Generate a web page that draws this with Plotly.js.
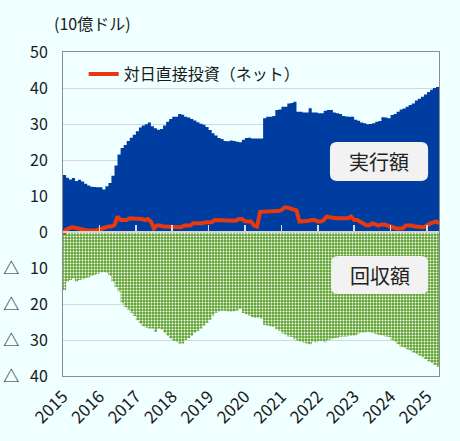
<!DOCTYPE html>
<html>
<head>
<meta charset="utf-8">
<script src="https://cdn.plot.ly/plotly-3.0.1.min.js"></script>
<style>
  html, body { margin: 0; padding: 0; background: #F0FFFF; }
  #chart { width: 460px; height: 441px; }
</style>
</head>
<body>
<div id="chart"></div>
<script>
/*globals document, Plotly*/

// monthly, Jan 2015 - May 2025 (10億ドル)
var startYear = 2015;

// 実行額
var execution = [
  15.8, 15.1, 14.6, 15.0, 14.2, 14.5, 14.0, 13.4, 12.9, 12.6,
  12.5, 12.4, 12.4, 11.8, 12.7, 13.6, 15.6, 18.5, 21.5, 23.3,
  24.2, 25.3, 26.2, 27.0, 28.0, 29.0, 29.6, 29.9, 30.4, 29.4,
  28.8, 28.4, 28.6, 29.6, 30.6, 31.4, 32.0, 32.0, 32.8, 32.6,
  32.0, 31.8, 31.4, 31.0, 30.5, 30.1, 29.8, 29.2, 28.3, 27.4,
  26.8, 26.1, 25.8, 25.3, 25.2, 25.4, 25.3, 25.1, 24.9, 25.6,
  26.1, 26.2, 26.0, 26.0, 26.0, 26.0, 31.6, 32.0, 32.0, 32.2,
  33.9, 34.0, 34.8, 34.8, 35.7, 35.8, 36.2, 33.4, 33.4, 33.2,
  33.2, 34.4, 33.2, 33.2, 33.0, 33.0, 33.7, 33.9, 33.9, 33.2,
  33.0, 32.8, 32.2, 32.1, 32.0, 32.0, 31.2, 30.9, 30.4, 30.2,
  29.9, 30.0, 30.2, 30.6, 30.8, 31.9, 31.8, 31.6, 32.5, 32.8,
  33.4, 34.0, 34.3, 34.8, 35.3, 35.7, 36.5, 37.0, 37.6, 38.2,
  38.9, 39.5, 40.0, 40.3, 40.6
];

// 回収額 (negative)
var collection = [
  -16.1, -13.8, -13.3, -12.9, -13.8, -13.3, -13.1, -12.8, -12.6, -12.2,
  -11.9, -11.6, -11.2, -11.1, -11.4, -12.2, -13.8, -15.2, -16.5, -19.8,
  -20.8, -21.6, -22.4, -23.3, -24.5, -25.5, -26.2, -26.5, -26.8, -26.8,
  -27.7, -26.8, -27.1, -28.0, -28.8, -29.6, -30.2, -30.5, -31.0, -31.0,
  -30.0, -29.5, -28.8, -28.0, -27.5, -26.8, -26.0, -25.2, -24.4, -23.2,
  -22.4, -22.0, -21.9, -21.9, -22.0, -22.1, -22.0, -21.8, -21.4, -22.5,
  -22.8, -23.2, -23.6, -23.8, -23.8, -24.0, -25.8, -26.0, -26.2, -26.4,
  -27.0, -27.4, -28.2, -28.5, -29.0, -29.2, -29.8, -30.2, -30.5, -30.7,
  -31.0, -31.2, -30.5, -30.6, -30.3, -30.2, -30.6, -30.0, -29.8, -29.5,
  -29.4, -29.1, -29.0, -29.0, -28.8, -28.8, -28.7, -28.2, -28.0, -27.9,
  -27.7, -27.9, -28.1, -28.4, -28.6, -28.7, -29.0, -29.2, -30.0, -30.5,
  -31.2, -31.8, -32.1, -32.6, -32.9, -33.5, -33.9, -34.3, -34.8, -35.3,
  -35.9, -36.4, -36.9, -37.4, -37.7
];

// 対日直接投資（ネット）
var net = [
  -0.6, 0.6, 1.0, 1.3, 1.2, 1.0, 0.8, 0.4, 0.4, 0.4,
  0.4, 0.5, 0.7, 1.0, 1.0, 1.5, 1.5, 1.9, 4.3, 3.3,
  3.3, 3.3, 3.8, 3.8, 3.8, 3.6, 3.6, 3.3, 3.6, 2.9,
  1.0, 1.8, 1.8, 1.5, 1.5, 1.5, 1.5, 1.5, 1.3, 1.3,
  1.8, 1.8, 1.8, 2.4, 2.4, 2.4, 2.4, 2.7, 2.7, 2.7,
  3.3, 3.3, 3.3, 3.1, 3.1, 3.1, 3.1, 3.1, 3.6, 3.6,
  3.0, 3.0, 2.9, 1.8, 1.5, 5.6, 5.6, 5.6, 5.6, 5.7,
  5.6, 5.8, 6.1, 6.8, 6.8, 6.5, 6.1, 6.0, 2.9, 2.9,
  2.9, 3.1, 3.3, 3.3, 2.9, 2.9, 3.3, 4.3, 4.1, 3.8,
  3.8, 3.8, 3.8, 3.8, 3.8, 4.3, 3.3, 3.3, 2.8, 2.4,
  1.9, 1.9, 2.4, 2.1, 1.8, 2.1, 2.1, 1.8, 1.5, 1.2,
  1.0, 1.0, 1.0, 1.8, 1.8, 1.8, 1.5, 1.5, 1.5, 1.3,
  1.8, 2.4, 2.6, 2.9, 2.4
];

var yTickVals = [50, 40, 30, 20, 10, 0, -10, -20, -30, -40];
var yTickText = ['50', '40', '30', '20', '10', '0',
  '△\u00a0\u00a0\u00a010', '△\u00a0\u00a0\u00a020', '△\u00a0\u00a0\u00a030', '△\u00a0\u00a0\u00a040'];

function monthString(i) {
  var y = startYear + Math.floor(i / 12);
  var m = (i % 12) + 1;
  return y + '-' + (m < 10 ? '0' + m : m) + '-01';
}

var months = execution.map(function (v, i) { return monthString(i); });
var xRange = [months[0], months[months.length - 1]];

var fontFamily = '"Noto Sans CJK JP", "Noto Sans", sans-serif';
var bg = '#F0FFFF';

var traces = [
  {
    x: months, y: execution, type: 'scatter', mode: 'lines',
    line: {shape: 'hv', width: 0, color: '#003DA0'},
    fill: 'tozeroy', fillcolor: '#003DA0',
    showlegend: false, hoverinfo: 'skip'
  },
  {
    x: months, y: collection, type: 'scatter', mode: 'lines',
    line: {shape: 'hv', width: 0, color: '#5ca32c'},
    fill: 'tozeroy', fillcolor: '#5ca32c',
    fillpattern: {shape: '.', bgcolor: '#5ca32c', fgcolor: '#ffffff', size: 3, solidity: 0.35},
    showlegend: false, hoverinfo: 'skip'
  },
  {
    x: months, y: net, type: 'scatter', mode: 'lines',
    name: '対日直接投資（ネット）',
    xaxis: 'x2',
    line: {width: 4, color: '#E8380D'}
  }
];

// rounded label box in paper coords
function roundBox(x0, x1, y0, y1) {
  var rx = 7 / 376, ry = 7 / 324;
  return 'M' + (x0 + rx) + ',' + y0 + ' L' + (x1 - rx) + ',' + y0 +
    ' Q' + x1 + ',' + y0 + ' ' + x1 + ',' + (y0 + ry) +
    ' L' + x1 + ',' + (y1 - ry) +
    ' Q' + x1 + ',' + y1 + ' ' + (x1 - rx) + ',' + y1 +
    ' L' + (x0 + rx) + ',' + y1 +
    ' Q' + x0 + ',' + y1 + ' ' + x0 + ',' + (y1 - ry) +
    ' L' + x0 + ',' + (y0 + ry) +
    ' Q' + x0 + ',' + y0 + ' ' + (x0 + rx) + ',' + y0 + ' Z';
}

var layout = {
  width: 460,
  height: 441,
  margin: {l: 63, r: 21, t: 52, b: 65},
  paper_bgcolor: bg,
  plot_bgcolor: bg,
  font: {family: fontFamily, size: 16, color: '#1a1a1a'},
  showlegend: true,
  legend: {
    x: 0.055, y: 0.932, xanchor: 'left', yanchor: 'middle',
    bgcolor: 'rgba(0,0,0,0)', itemwidth: 30,
    font: {family: fontFamily, size: 16, color: '#1a1a1a'}
  },
  xaxis: {
    type: 'date', range: xRange,
    tick0: months[0], dtick: 'M12', tickformat: '%Y', tickangle: -45,
    showgrid: false, zeroline: false,
    showline: true, mirror: true, linecolor: '#8c8c8c', linewidth: 1,
    ticks: 'outside', ticklen: 3, tickcolor: 'rgba(0,0,0,0)',
    tickfont: {size: 17, color: '#1a1a1a'}
  },
  xaxis2: {
    type: 'date', range: xRange, overlaying: 'x', anchor: 'free', position: 40 / 90,
    tick0: months[0], dtick: 'M12', showticklabels: false,
    showgrid: false, zeroline: false,
    showline: true, linecolor: '#cfd3d6', linewidth: 2,
    ticks: 'inside', ticklen: 6, tickwidth: 1.5, tickcolor: '#d8dcdf'
  },
  yaxis: {
    range: [-40, 50], tickvals: yTickVals, ticktext: yTickText,
    gridcolor: '#d6d6d6', gridwidth: 1, zeroline: false,
    showline: true, mirror: true, linecolor: '#8c8c8c', linewidth: 1,
    ticks: 'outside', ticklen: 11, tickcolor: 'rgba(0,0,0,0)',
    tickfont: {size: 16, color: '#1a1a1a'}
  },
  shapes: [
    {type: 'path', xref: 'paper', yref: 'paper', layer: 'above',
      path: roundBox(0.710, 0.971, 0.602, 0.722), fillcolor: '#F2F2F2', line: {width: 0}},
    {type: 'path', xref: 'paper', yref: 'paper', layer: 'above',
      path: roundBox(0.713, 0.971, 0.253, 0.370), fillcolor: '#F2F2F2', line: {width: 0}}
  ],
  annotations: [
    {text: '(10億ドル)', xref: 'paper', yref: 'paper', x: -0.03, y: 1.09,
      xanchor: 'left', yanchor: 'middle', showarrow: false,
      font: {size: 16, color: '#1a1a1a'}},
    {text: '実行額', xref: 'paper', yref: 'paper', x: 0.8405, y: 0.662,
      xanchor: 'center', yanchor: 'middle', showarrow: false,
      font: {size: 20, color: '#222'}},
    {text: '回収額', xref: 'paper', yref: 'paper', x: 0.842, y: 0.3115,
      xanchor: 'center', yanchor: 'middle', showarrow: false,
      font: {size: 20, color: '#222'}}
  ]
};

Plotly.newPlot('chart', traces, layout, {displayModeBar: false, staticPlot: true});
</script>
</body>
</html>
